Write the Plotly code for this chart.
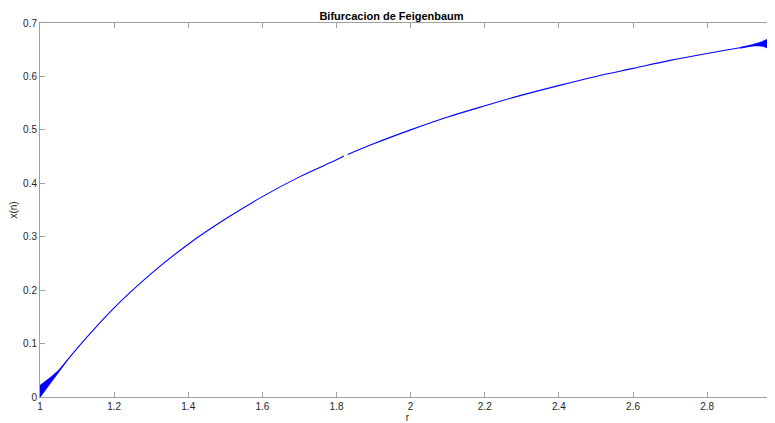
import plotly.graph_objects as go

# main curve; None marks the small gap near r=1.82
r_curve = [1.0, 1.05, 1.1, 1.2, 1.3, 1.4, 1.5, 1.6, 1.7, 1.8, 1.82, None,
           1.83, 1.9, 2.0, 2.1, 2.2, 2.3, 2.4, 2.5, 2.6, 2.7, 2.8, 2.9, 2.983]
x_curve = [0.0, 0.048, 0.091, 0.167, 0.231, 0.286, 0.333, 0.375, 0.412, 0.444, 0.451, None,
           0.454, 0.474, 0.5, 0.524, 0.545, 0.565, 0.583, 0.6, 0.615, 0.63, 0.643, 0.655, 0.665]

# spread band near r = 1 (slow convergence)
r_band_left = [1.0, 1.01, 1.02, 1.03, 1.05, 1.075, 1.05, 1.03, 1.02, 1.01, 1.0]
x_band_left = [0.022, 0.027, 0.032, 0.038, 0.05, 0.07, 0.046, 0.027, 0.018, 0.008, 0.0]

# spread band near r = 3 (onset of period doubling)
r_band_right = [2.89, 2.92, 2.94, 2.955, 2.967, 2.976, 2.983, 2.983, 2.976, 2.967, 2.955, 2.94, 2.92, 2.89]
x_band_right = [0.6545, 0.6595, 0.6635, 0.6675, 0.672, 0.677, 0.682,
                0.644, 0.647, 0.651, 0.655, 0.657, 0.6565, 0.6525]

x_ticks = [1, 1.2, 1.4, 1.6, 1.8, 2, 2.2, 2.4, 2.6, 2.8]
y_ticks = [0, 0.1, 0.2, 0.3, 0.4, 0.5, 0.6, 0.7]

fig = go.Figure()
fig.add_trace(go.Scatter(x=r_band_left, y=x_band_left, mode="lines", fill="toself",
                         fillcolor="#0000ff", line=dict(color="#0000ff", width=0.5),
                         showlegend=False, hoverinfo="skip"))
fig.add_trace(go.Scatter(x=r_band_right, y=x_band_right, mode="lines", fill="toself",
                         fillcolor="#0000ff", line=dict(color="#0000ff", width=0.5, shape="spline"),
                         showlegend=False, hoverinfo="skip"))
fig.add_trace(go.Scatter(x=r_curve, y=x_curve, mode="lines", line=dict(color="#0000ff", width=1.1,
                         shape="spline"), connectgaps=False, showlegend=False))

axis_common = dict(showgrid=False, zeroline=False, showline=True, linecolor="#a0a0a0",
                   linewidth=1, mirror="ticks", ticks="inside", ticklen=5, tickcolor="#a0a0a0",
                   tickfont=dict(family="Liberation Sans, Arial", size=10, color="#262626"))

fig.update_layout(
    width=767, height=415,
    margin=dict(l=32, r=0, t=15, b=26, autoexpand=False),
    paper_bgcolor="white", plot_bgcolor="white",
    title=dict(text="<b>Bifurcacion de Feigenbaum</b>", x=0.5, xanchor="center",
               y=1 - 8 / 415, yanchor="middle",
               font=dict(family="Liberation Sans, Arial", size=11, color="#000000")),
    xaxis=dict(range=[1, 2.983], tickvals=x_ticks, title=dict(text="r", standoff=4,
               font=dict(family="Liberation Sans, Arial", size=10, color="#262626")), **axis_common),
    yaxis=dict(range=[0, 0.7], tickvals=y_ticks, title=dict(text="x(n)", standoff=8,
               font=dict(family="Liberation Sans, Arial", size=10, color="#262626")), **axis_common),
)

fig.write_html("out.html")
